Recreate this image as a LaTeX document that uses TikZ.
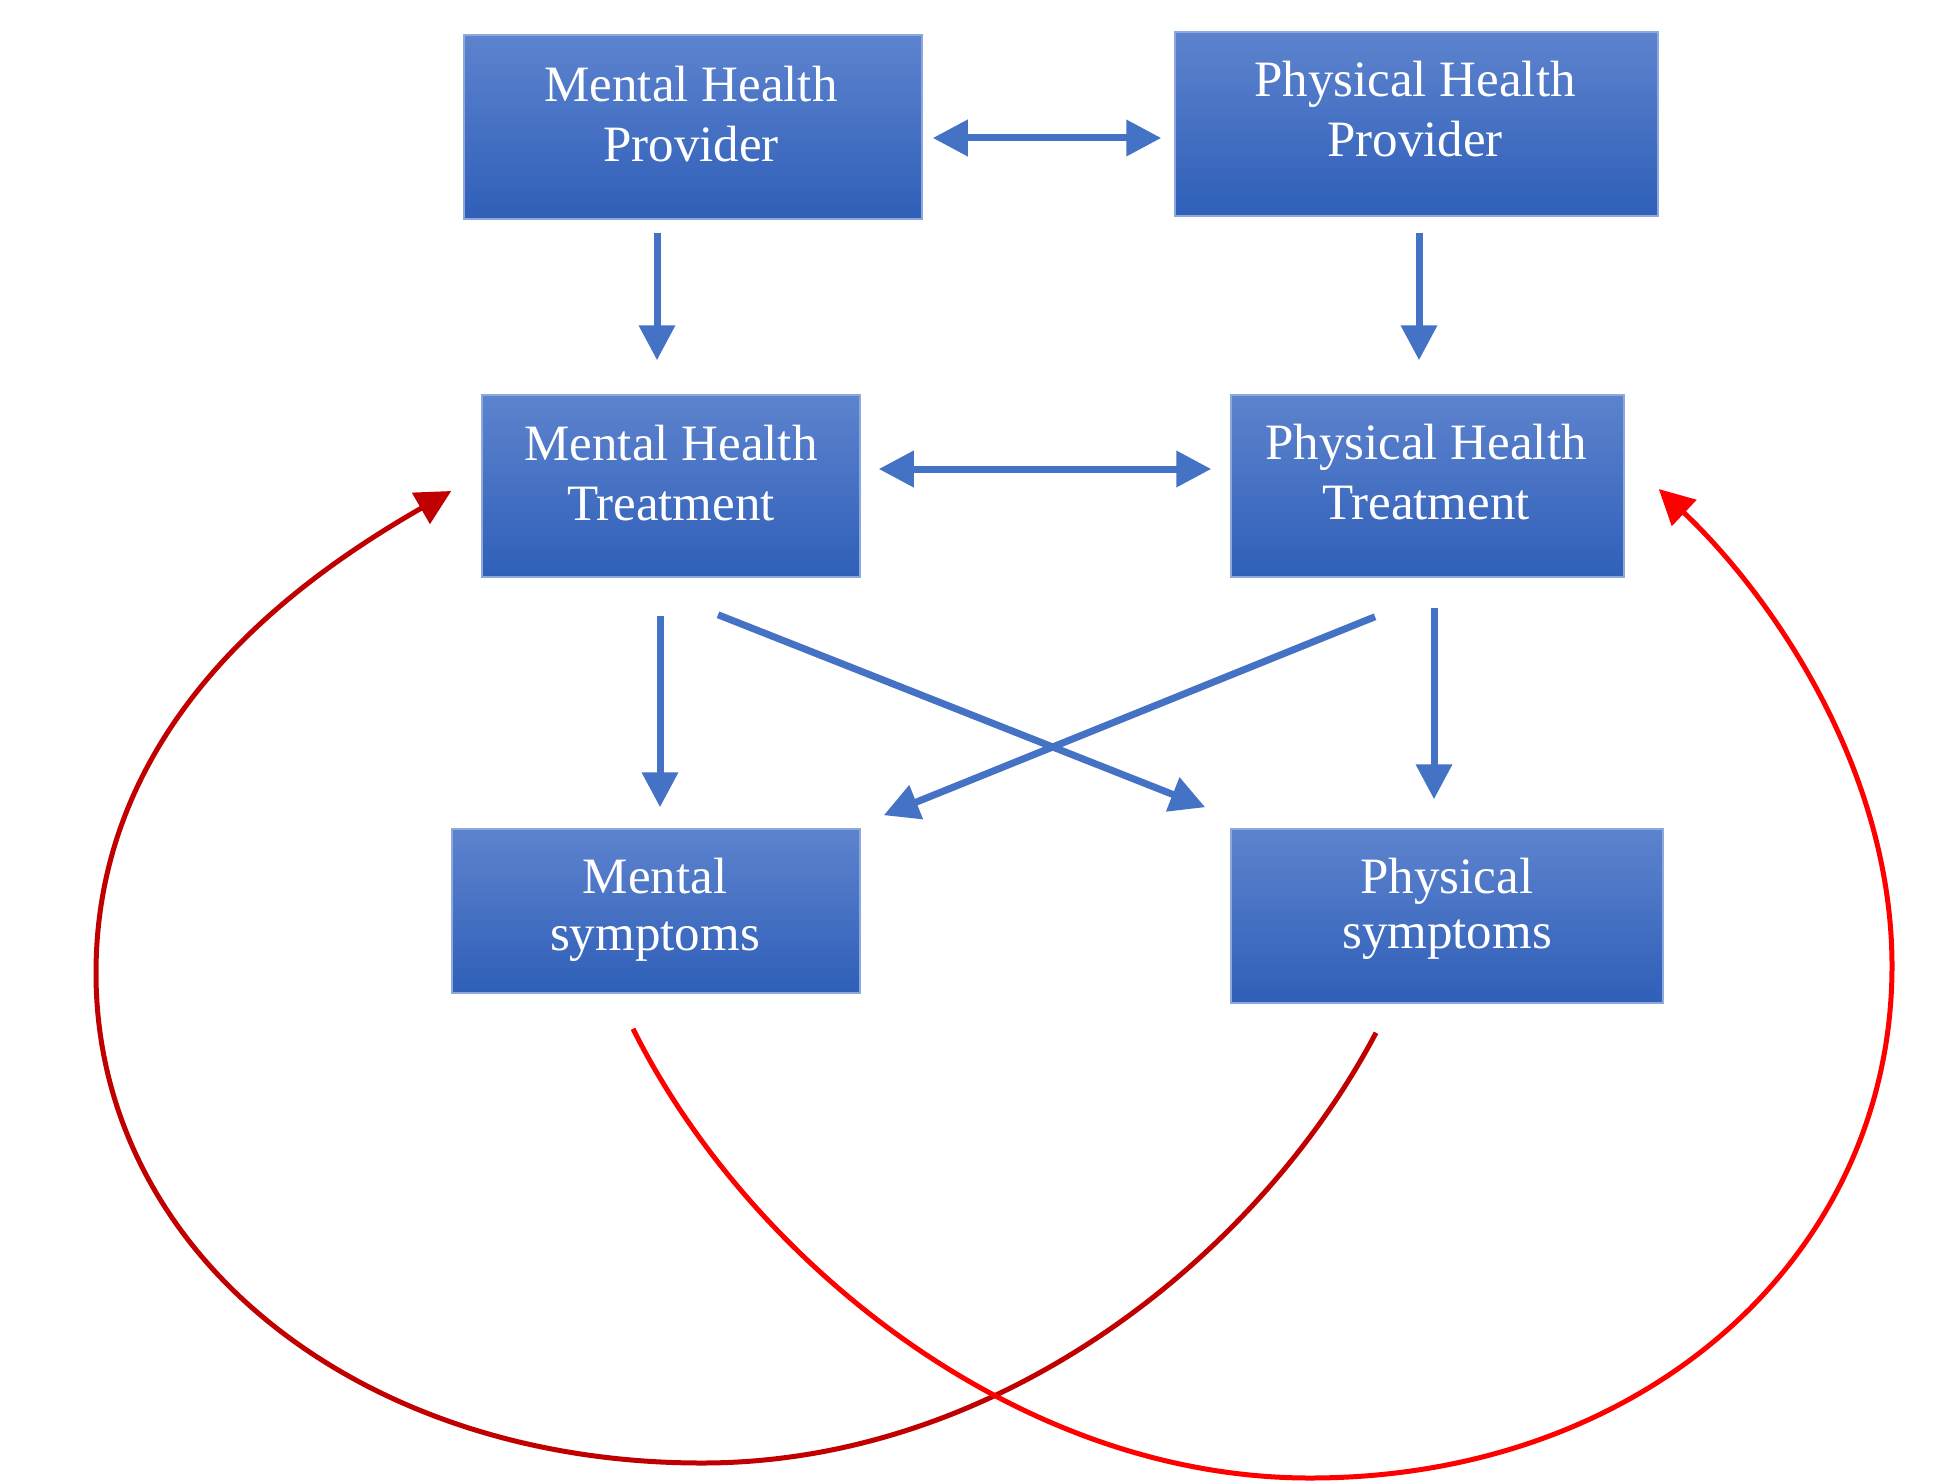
\documentclass[tikz,border=0pt]{standalone}
\usepackage{fontspec}
\setmainfont{Liberation Serif}
\usetikzlibrary{arrows.meta,calc}
\definecolor{boxtop}{RGB}{93,131,206}
\definecolor{boxbot}{RGB}{47,95,184}
\definecolor{boxedge}{RGB}{140,168,220}
\definecolor{arrblue}{RGB}{68,114,196}
\definecolor{darkred}{RGB}{192,0,0}
\definecolor{brightred}{RGB}{255,0,0}
\begin{document}
\begin{tikzpicture}[x=1pt,y=-1pt,
  box/.style={rectangle, draw=boxedge, line width=1.5pt, top color=boxtop, bottom color=boxbot, inner sep=0pt},
  lbl/.style={text=white, align=center, anchor=base, inner sep=0pt, font=\fontsize{51}{60}\selectfont},
  bluehead/.style={},
  barrow/.style={draw=arrblue, line width=7pt, -{Triangle[length=35pt,width=35pt]}},
  bdouble/.style={draw=arrblue, line width=7pt, {Triangle[length=35pt,width=35pt]}-{Triangle[length=35pt,width=35pt]}},
  rarrow/.style={line width=5pt, -{Triangle[length=35pt,width=35pt]}}
]
\fill[white] (0,0) rectangle (1934,1482);
\useasboundingbox (0,0) rectangle (1934,1482);

% boxes
\node[box, minimum width=458pt, minimum height=184pt] (mhp) at (693,127) {};
\node[box, minimum width=483pt, minimum height=184pt] (php) at (1416.5,124) {};
\node[box, minimum width=378pt, minimum height=182pt] (mht) at (671,486) {};
\node[box, minimum width=393pt, minimum height=182pt] (pht) at (1427.5,486) {};
\node[box, minimum width=408pt, minimum height=164pt] (ms) at (656,911) {};
\node[box, minimum width=432pt, minimum height=174pt] (ps) at (1447,916) {};

% labels
\node[lbl] (mhpt) at (691,162) {Mental Health\\Provider};
\node[lbl] (phpt) at (1415,157) {Physical Health\\Provider};
\node[lbl] (mhtt) at (671,520) {Mental Health\\Treatment};
\node[lbl] (phtt) at (1426,519) {Physical Health\\Treatment};
\node[lbl, font=\fontsize{51}{57}\selectfont] (mst) at (655,950) {Mental\\symptoms};
\node[lbl, font=\fontsize{51}{55}\selectfont] (pst) at (1447,948) {Physical\\symptoms};

% blue connectors
\draw[bdouble] ($(mhp.east)+(10,11)$) -- ($(php.west)+(-13,14)$);
\draw[barrow] ($(mhp.south)+(-36,13)$) -- ($(mht.north)+(-14,-34)$);
\draw[barrow] ($(php.south)+(2.5,16)$) -- ($(pht.north)+(-8.5,-34)$);
\draw[bdouble] ($(mht.east)+(18,-17)$) -- ($(pht.west)+(-19,-17)$);
\draw[barrow] ($(mht.south)+(-11,38)$) -- ($(ms.north)+(4,-21)$);
\draw[barrow] ($(pht.south)+(6.5,30)$) -- ($(ps.north)+(-13,-29)$);
\draw[barrow] ($(mht.south)+(47,37)$) -- ($(ps.north west)+(-25,-21)$);
\draw[barrow] ($(pht.south)+(-52.5,39)$) -- ($(ms.north east)+(23,-13)$);

% red feedback curves
\draw[rarrow, darkred] ($(ps.south)+(-71,29)$) .. controls (1260,1253) and (1002,1463) .. (702,1463)
  .. controls (357,1463) and (96,1252) .. (96,973)
  .. controls (96,723) and (296,580) .. ($(mht.west)+(-30,5)$);
\draw[rarrow, brightred] ($(ms.south)+(-23,35)$) .. controls (744,1252) and (1010,1478) .. (1310,1478)
  .. controls (1642,1478) and (1892,1258) .. (1892,966)
  .. controls (1892,766) and (1768,592) .. ($(pht.east)+(34,3)$);
\end{tikzpicture}
\end{document}
